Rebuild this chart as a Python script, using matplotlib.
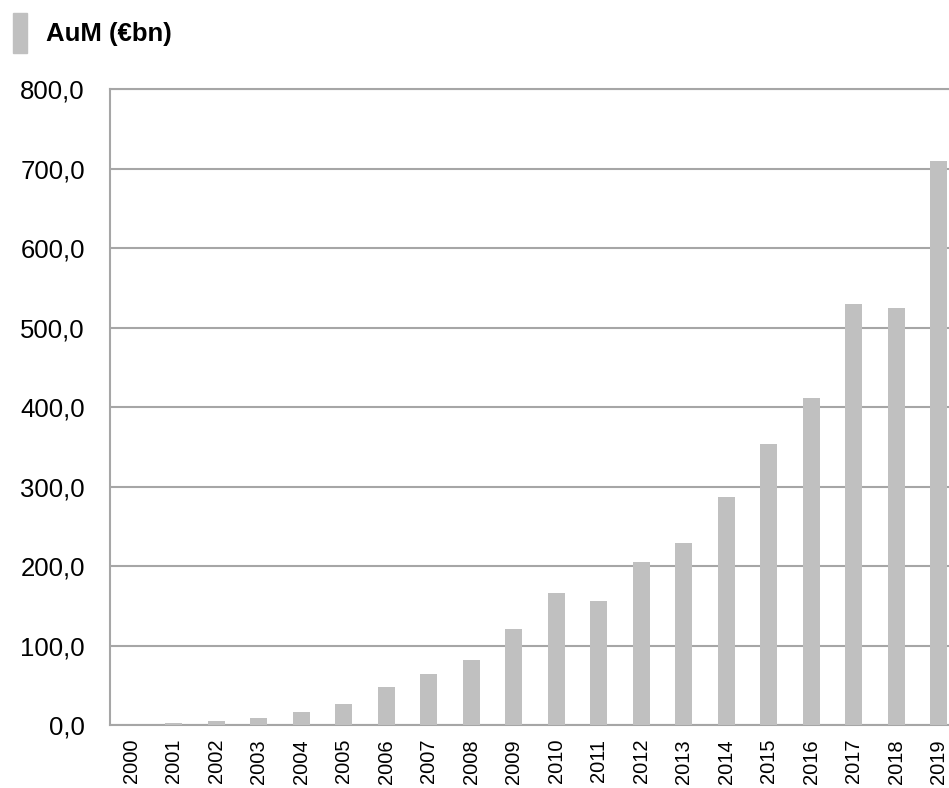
import matplotlib.pyplot as plt
import matplotlib.patches as mpatches
from matplotlib.ticker import FuncFormatter

plt.rcParams['font.family'] = ['Liberation Sans', 'DejaVu Sans']

years = [str(y) for y in range(2000, 2020)]
aum = [0.5, 3, 5, 9, 16, 27, 48, 64, 82, 121,
       166, 156, 205, 229, 287, 353, 412, 529, 525, 710]
yticks = [0, 100, 200, 300, 400, 500, 600, 700, 800]

bar_color = '#c0c0c0'
grid_color = '#a6a6a6'

fig = plt.figure(figsize=(9.49, 7.88), dpi=100)
# plot area runs past the right edge, as in the cropped original
ax = fig.add_axes([0.1159, 0.0799, 0.8957, 0.8071])

x = range(len(years))
ax.bar(x, aum, width=0.4, color=bar_color, zorder=3)

ax.set_xlim(-0.5, len(years) - 0.5)
ax.set_ylim(0, 800)
ax.set_yticks(yticks)
ax.yaxis.set_major_formatter(FuncFormatter(lambda v, p: f'{v:.1f}'.replace('.', ',')))
ax.set_xticks(list(x))
ax.set_xticklabels(years, rotation=90)

ax.grid(axis='y', color=grid_color, linewidth=1.5, zorder=0)
ax.tick_params(axis='y', length=0, labelsize=18.5, pad=18)
ax.tick_params(axis='x', length=0, labelsize=14.5, pad=10)
for side in ['left', 'bottom', 'top']:
    ax.spines[side].set_color(grid_color)
    ax.spines[side].set_linewidth(1.5)
ax.spines['right'].set_visible(False)

handles = [mpatches.Patch(color=bar_color, label='AuM (€bn)')]
fig.legend(handles=handles, loc='upper left', bbox_to_anchor=(0.0, 1.0),
           frameon=False, prop={'weight': 'bold', 'size': 18.5},
           handlelength=0.55, handleheight=2.05, handletextpad=0.75,
           borderpad=0.2, borderaxespad=0.3)

plt.savefig('out.png', dpi=100)
